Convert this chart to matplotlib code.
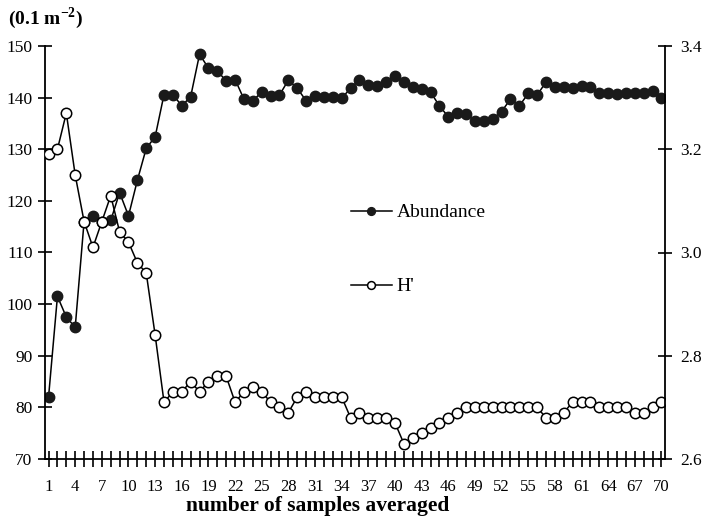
import matplotlib
matplotlib.use("Agg")
import matplotlib.pyplot as plt
from matplotlib.ticker import MultipleLocator, FixedLocator

# samples averaged 1..70
amostras = list(range(1, 71))

abundancia = [
    82.0, 101.5, 97.5, 95.5, 116.0, 117.0, 116.0, 116.2, 121.6, 117.1,
    124.0, 130.2, 132.4, 140.6, 140.6, 138.4, 140.2, 148.4, 145.7, 145.2,
    143.2, 143.5, 139.7, 139.4, 141.1, 140.4, 140.5, 143.4, 141.8, 139.4,
    140.3, 140.1, 140.2, 139.9, 141.8, 143.5, 142.4, 142.3, 143.1, 144.2,
    143.1, 142.0, 141.7, 141.1, 138.4, 136.3, 137.1, 136.8, 135.5, 135.5,
    135.9, 137.3, 139.7, 138.4, 140.8, 140.5, 143.0, 142.1, 142.1, 141.8,
    142.2, 142.1, 140.8, 140.9, 140.7, 140.8, 140.8, 140.8, 141.3, 140.0,
]

diversidade = [
    3.19, 3.20, 3.27, 3.15, 3.06, 3.01, 3.06, 3.11, 3.04, 3.02,
    2.98, 2.96, 2.84, 2.71, 2.73, 2.73, 2.75, 2.73, 2.75, 2.76,
    2.76, 2.71, 2.73, 2.74, 2.73, 2.71, 2.70, 2.69, 2.72, 2.73,
    2.72, 2.72, 2.72, 2.72, 2.68, 2.69, 2.68, 2.68, 2.68, 2.67,
    2.63, 2.64, 2.65, 2.66, 2.67, 2.68, 2.69, 2.70, 2.70, 2.70,
    2.70, 2.70, 2.70, 2.70, 2.70, 2.70, 2.68, 2.68, 2.69, 2.71,
    2.71, 2.71, 2.70, 2.70, 2.70, 2.70, 2.69, 2.69, 2.70, 2.71,
]

rotulos_x = list(range(1, 71, 3))

plt.rcParams["font.family"] = ["Liberation Serif", "DejaVu Serif"]
plt.rcParams["mathtext.fontset"] = "custom"
plt.rcParams["mathtext.rm"] = "Liberation Serif"
plt.rcParams["mathtext.bf"] = "Liberation Serif:bold"

fig = plt.figure(figsize=(7.02, 5.19), dpi=100)
ax = fig.add_axes([45 / 702, 1 - 459 / 519, 620 / 702, 413 / 519])
ax2 = ax.twinx()

linha_ab, = ax.plot(
    amostras, abundancia,
    color="black", linewidth=1.1,
    marker="o", markersize=7.5,
    markerfacecolor="#1a1a1a", markeredgecolor="#1a1a1a",
    label="Abundance",
)

linha_h, = ax2.plot(
    amostras, diversidade,
    color="black", linewidth=1.1,
    marker="o", markersize=7.5,
    markerfacecolor="white", markeredgecolor="black", markeredgewidth=1.1,
    label="H'",
)

ax.set_xlim(0.6, 70.4)
ax.set_ylim(70, 150)
ax2.set_ylim(2.6, 3.4)

ax.xaxis.set_major_locator(FixedLocator(rotulos_x))
ax.xaxis.set_minor_locator(MultipleLocator(1))
ax.yaxis.set_major_locator(MultipleLocator(10))
ax2.yaxis.set_major_locator(MultipleLocator(0.2))
ax2.set_yticklabels([f"{v:.1f}" for v in ax2.get_yticks()])

ax.tick_params(axis="x", which="both", direction="inout", length=11,
               width=1.2, labelsize=12, pad=9)
ax.tick_params(axis="y", direction="inout", length=10, width=1.2,
               labelsize=12.5, pad=4)
ax2.tick_params(axis="y", direction="inout", length=10, width=1.2,
                labelsize=12.5, pad=6)

for nome in ["top", "right"]:
    ax.spines[nome].set_visible(False)
for nome in ["top", "left", "bottom"]:
    ax2.spines[nome].set_visible(False)
for spine in [ax.spines["left"], ax.spines["bottom"], ax2.spines["right"]]:
    spine.set_linewidth(1.3)

ax2.legend(
    handles=[linha_ab, linha_h],
    loc="upper left",
    bbox_to_anchor=(341 / 702, 1 - 194 / 519),
    bbox_transform=fig.transFigure,
    frameon=False,
    fontsize=14,
    handlelength=2.1,
    handletextpad=0.25,
    labelspacing=2.9,
    markerscale=0.75,
    borderpad=0,
)

fig.text(8 / 702, 1 - 18 / 519, r"(0.1 m$^{\mathbf{-2}}$)",
         fontsize=14, fontweight="bold", ha="left", va="center")

fig.text(318 / 702, 1 - 506 / 519, "number of samples averaged",
         fontsize=15.5, fontweight="bold", ha="center", va="center")

fig.savefig("out.png", dpi=100)
